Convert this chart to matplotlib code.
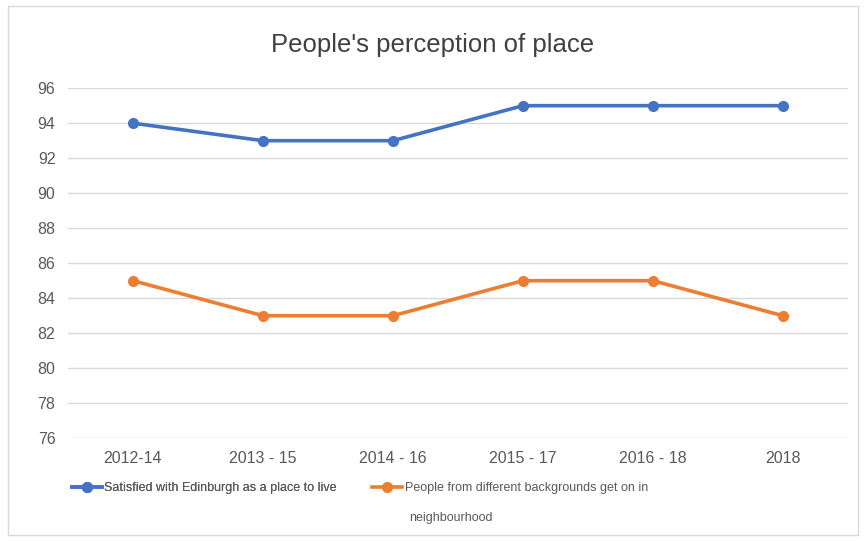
import matplotlib.pyplot as plt
from matplotlib.patches import Rectangle

plt.rcParams['font.family'] = ['Liberation Sans', 'DejaVu Sans']

periods = ["2012-14", "2013 - 15", "2014 - 16", "2015 - 17", "2016 - 18", "2018"]
satisfied = [94, 93, 93, 95, 95, 95]
backgrounds = [85, 83, 83, 85, 85, 83]
y_ticks = [76, 78, 80, 82, 84, 86, 88, 90, 92, 94, 96]
label_blue = "Satisfied with Edinburgh as a place to live"
label_orange = "People from different backgrounds get on in"
label_orange_2 = "neighbourhood"

fig = plt.figure(figsize=(8.66, 5.41), dpi=100)
ax = fig.add_axes([0.0785, 0.19, 0.9005, 0.647])

x = range(len(periods))
l1, = ax.plot(x, satisfied, color='#4472C4', lw=2.6, marker='o', ms=7)
l2, = ax.plot(x, backgrounds, color='#ED7D31', lw=2.6, marker='o', ms=7)

ax.set_xlim(-0.5, len(periods) - 0.5)
ax.set_ylim(76, 96)
ax.set_yticks(y_ticks)
ax.set_xticks(list(x))
ax.set_xticklabels(periods)
ax.tick_params(length=0, labelsize=11.5, colors='#595959', pad=9)
ax.grid(axis='y', color='#D9D9D9', lw=1)
ax.set_axisbelow(True)
for s in ax.spines.values():
    s.set_visible(False)

fig.text(0.5, 0.917, "People's perception of place", ha='center', va='center',
         fontsize=18.5, color='#404040')

leg_kw = dict(frameon=False, fontsize=9, labelcolor='#595959', handlelength=2.4,
              handletextpad=0.2, borderaxespad=0, borderpad=0, loc='center left')
leg1 = fig.legend([l1], [label_blue], bbox_to_anchor=(0.083, 0.098), **leg_kw)
fig.legend([l2], [label_orange], bbox_to_anchor=(0.43, 0.098), **leg_kw)
fig.add_artist(leg1)
fig.text(0.472, 0.043, label_orange_2, ha='left', va='center', fontsize=9, color='#595959')

# thin frame round the chart area
fig.patches.append(Rectangle((0.009, 0.011), 0.982, 0.978, transform=fig.transFigure,
                             fill=False, edgecolor='#D9D9D9', lw=1))

fig.savefig("out.png", dpi=100)
